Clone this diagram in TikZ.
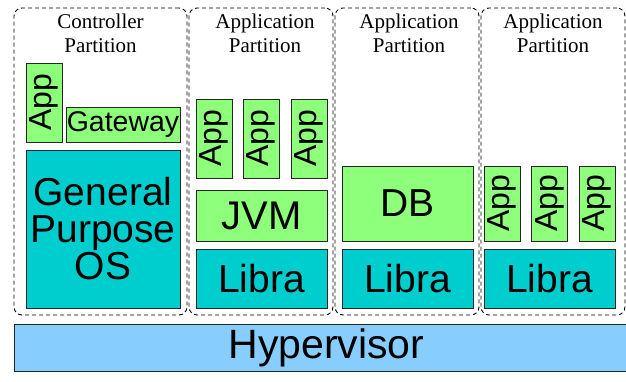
\documentclass[tikz,border=0pt]{standalone}
\usepackage{fontspec}
\setmainfont{Liberation Serif}
\setsansfont{Liberation Sans}
\usetikzlibrary{positioning}
\definecolor{appgreen}{RGB}{142,255,122}
\definecolor{osteal}{RGB}{0,206,206}
\definecolor{hyperblue}{RGB}{135,206,255}
\begin{document}
\begin{tikzpicture}[x=1pt, y=-1pt,
  partbox/.style={rectangle, draw, dash pattern=on 4pt off 3pt, line width=0.9pt, rounded corners=8pt, inner sep=0pt, minimum width=144pt, minimum height=307pt},
  parttitle/.style={align=center, inner sep=0pt, font=\fontsize{21}{24}\selectfont},
  block/.style={rectangle, draw=black!85, line width=0.9pt, inner sep=0pt, align=center, font=\sffamily\fontsize{39}{37}\selectfont},
  greenblock/.style={block, fill=appgreen},
  cyanblock/.style={block, fill=osteal},
  appbox/.style={greenblock, rotate=90, minimum height=36pt, font=\sffamily\fontsize{32}{32}\selectfont}
]
  \useasboundingbox (0,0) rectangle (626,381);
  \clip (0,0) rectangle (626,381);

  % Partitions
  \node[partbox, minimum width=173pt] (ctrl) at (100.5,161.5) {};
  \node[partbox] (part1) at (261,161.5) {};
  \node[partbox] (part2) at (407,161.5) {};
  \node[partbox] (part3) at (553,161.5) {};

  \node[parttitle, below=6pt of ctrl.north] (ctrltitle) {Controller\\Partition};
  \node[parttitle, below=6pt of part1.north, xshift=4pt] (title1) {Application\\Partition};
  \node[parttitle, below=6pt of part2.north, xshift=2pt] (title2) {Application\\Partition};
  \node[parttitle, below=6pt of part3.north] (title3) {Application\\Partition};

  % Controller partition
  \node[appbox, minimum width=79pt] (ctrlapp) at (44,102.5) {App};
  \node[greenblock, minimum width=114pt, minimum height=35pt, font=\sffamily\fontsize{28.5}{28}\selectfont] (gateway) at (123,124.5) {Gateway};
  \node[cyanblock, minimum width=154pt, minimum height=158pt, font=\sffamily\fontsize{39}{37}\selectfont] (gpos) at (103,229) {General\\Purpose\\OS};

  % Java partition
  \node[appbox, minimum width=79pt] (japp1) at (214,138.5) {App};
  \node[appbox, minimum width=79pt] (japp2) at (261,138.5) {App};
  \node[appbox, minimum width=79pt] (japp3) at (309,138.5) {App};
  \node[greenblock, minimum width=131pt, minimum height=51pt, font=\sffamily\fontsize{40}{40}\selectfont] (jvm) at (261.5,215.5) {JVM};
  \node[cyanblock, minimum width=131pt, minimum height=59pt] (libra1) at (261.5,278.5) {Libra};

  % Database partition
  \node[greenblock, minimum width=131pt, minimum height=75pt] (db) at (407.5,203.5) {DB};
  \node[cyanblock, minimum width=131pt, minimum height=59pt] (libra2) at (407.5,278.5) {Libra};

  % Native apps partition
  \node[appbox, minimum width=75pt] (napp1) at (502,203.5) {App};
  \node[appbox, minimum width=75pt] (napp2) at (549.5,203.5) {App};
  \node[appbox, minimum width=75pt] (napp3) at (597,203.5) {App};
  \node[cyanblock, minimum width=131pt, minimum height=59pt] (libra3) at (549.5,278.5) {Libra};

  % Hypervisor
  \node[block, fill=hyperblue, minimum width=625pt, minimum height=47pt, font=\sffamily\fontsize{41}{41}\selectfont] (hyper) at (326.5,347.5) {Hypervisor};
\end{tikzpicture}
\end{document}
